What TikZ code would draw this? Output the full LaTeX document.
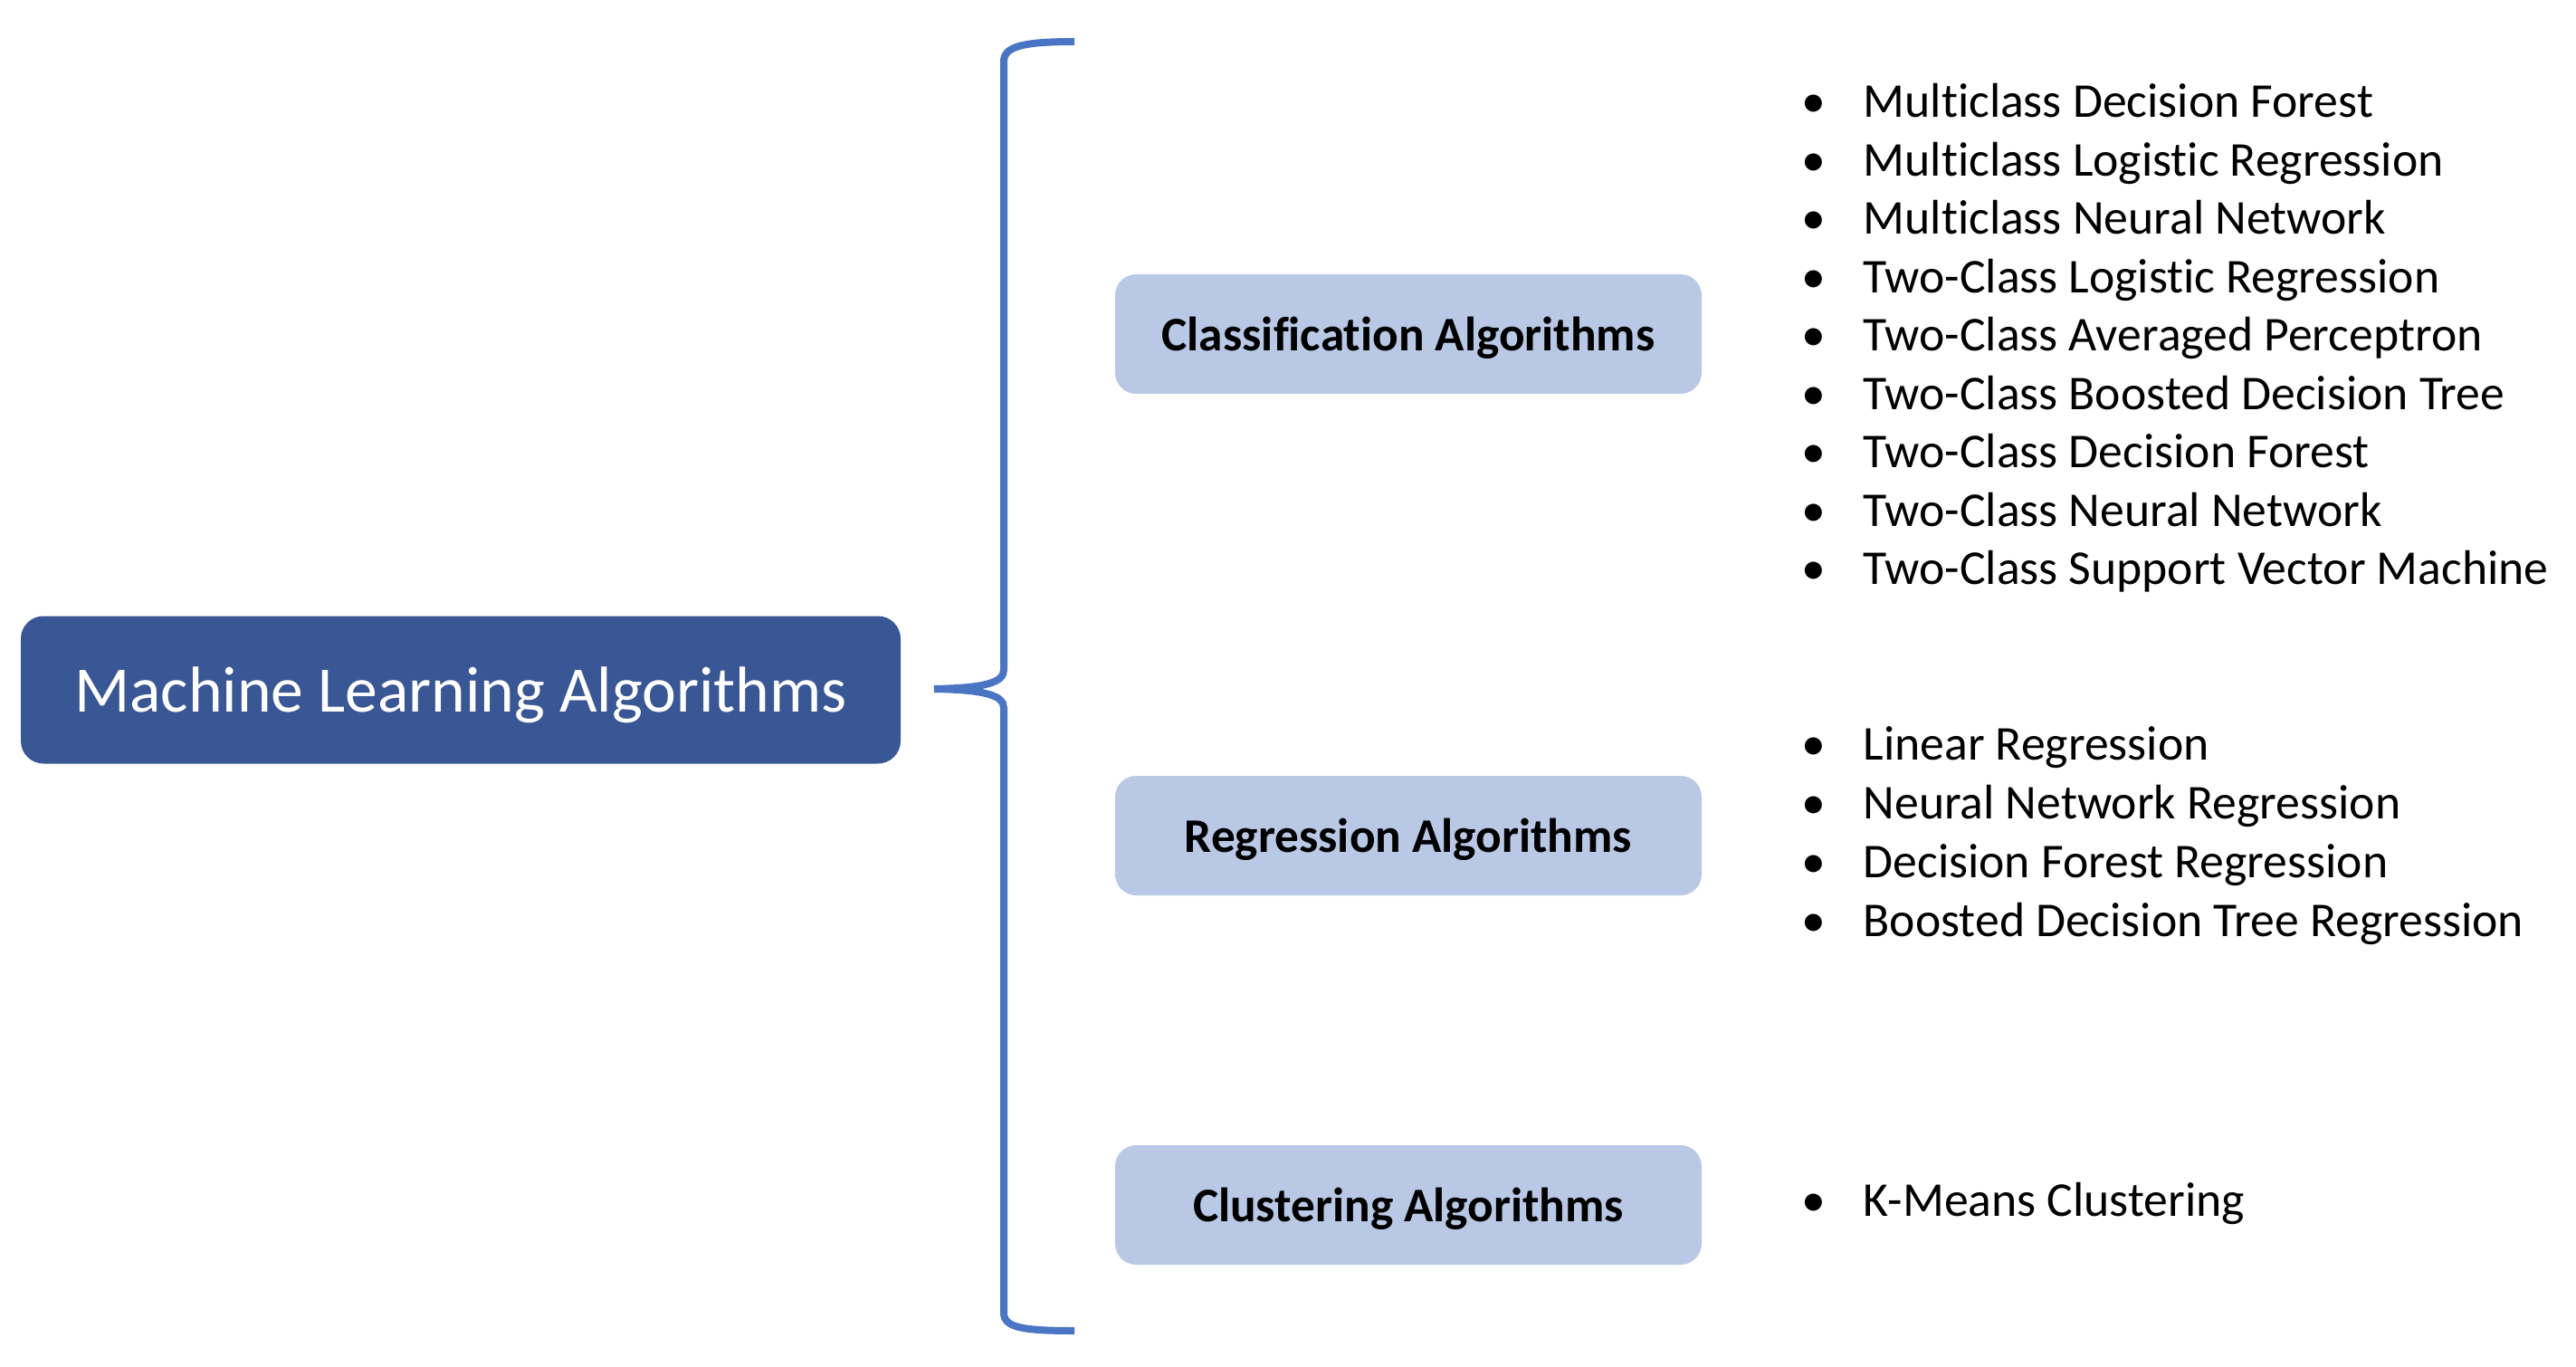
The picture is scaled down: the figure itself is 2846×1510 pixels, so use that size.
\documentclass[tikz,border=0pt]{standalone}
\usepackage{fontspec}
\setmainfont{Carlito}[RawFeature=-liga]
\definecolor{mainblue}{HTML}{3A5795}
\definecolor{subblue}{HTML}{B8C8E5}
\definecolor{bracecol}{HTML}{4A74C4}
\tikzset{
  mainbox/.style={fill=mainblue, rounded corners=7.5pt, text=white, font=\fontsize{21.5}{26}\selectfont, inner sep=0pt, text depth=0pt},
  subbox/.style={fill=subblue, rounded corners=7pt, text=black, font=\fontsize{16}{19}\selectfont\bfseries, inner sep=0pt, text depth=0pt},
  itemtext/.style={anchor=base west, inner sep=0pt, font=\fontsize{16.1}{19}\selectfont},
  bracestyle/.style={draw=bracecol, line width=2.4pt}
}
\newcommand{\bul}{\llap{\makebox[20.4pt][l]{•}}}
\begin{document}
\begin{tikzpicture}[x=0.3pt,y=-0.3pt]
\useasboundingbox (0,0) rectangle (2846,1510);
% main box
\node[mainbox, minimum width=972*0.3pt, minimum height=163*0.3pt] (main) at (509,762) {Machine Learning Algorithms};
% sub boxes
\node[subbox, minimum width=648*0.3pt, minimum height=132*0.3pt] (cls) at (1556,369) {Classification Algorithms};
\node[subbox, minimum width=648*0.3pt, minimum height=132*0.3pt] (reg) at (1556,923) {Regression Algorithms};
\node[subbox, minimum width=648*0.3pt, minimum height=132*0.3pt] (clu) at (1556,1331) {Clustering Algorithms};
% brace
\coordinate (btop) at (1187,46);
\coordinate (btip) at (1032,761);
\coordinate (bbot) at (1187,1470);
\draw[bracestyle] (btop) .. controls (1128,46) and (1109,52) .. (1109,68) -- (1109,740)
  .. controls (1109,754) and (1088,760) .. (btip)
  .. controls (1088,762) and (1109,768) .. (1109,782) -- (1109,1450)
  .. controls (1109,1466) and (1128,1470) .. (bbot);
% classification items
\node[itemtext] (c1) at (2058,130) {\bul Multiclass Decision Forest};
\node[itemtext] (c2) at (2058,194.5) {\bul Multiclass Logistic Regression};
\node[itemtext] (c3) at (2058,259) {\bul Multiclass Neural Network};
\node[itemtext] (c4) at (2058,323.5) {\bul Two-Class Logistic Regression};
\node[itemtext] (c5) at (2058,388) {\bul Two-Class Averaged Perceptron};
\node[itemtext] (c6) at (2058,452.5) {\bul Two-Class Boosted Decision Tree};
\node[itemtext] (c7) at (2058,517) {\bul Two-Class Decision Forest};
\node[itemtext] (c8) at (2058,581.5) {\bul Two-Class Neural Network};
\node[itemtext] (c9) at (2058,646) {\bul Two-Class Support Vector Machine};
% regression items
\node[itemtext] (r1) at (2058,839) {\bul Linear Regression};
\node[itemtext] (r2) at (2058,904) {\bul Neural Network Regression};
\node[itemtext] (r3) at (2058,969) {\bul Decision Forest Regression};
\node[itemtext] (r4) at (2058,1034) {\bul Boosted Decision Tree Regression};
% clustering items
\node[itemtext] (k1) at (2058,1343) {\bul K-Means Clustering};
\end{tikzpicture}
\end{document}
